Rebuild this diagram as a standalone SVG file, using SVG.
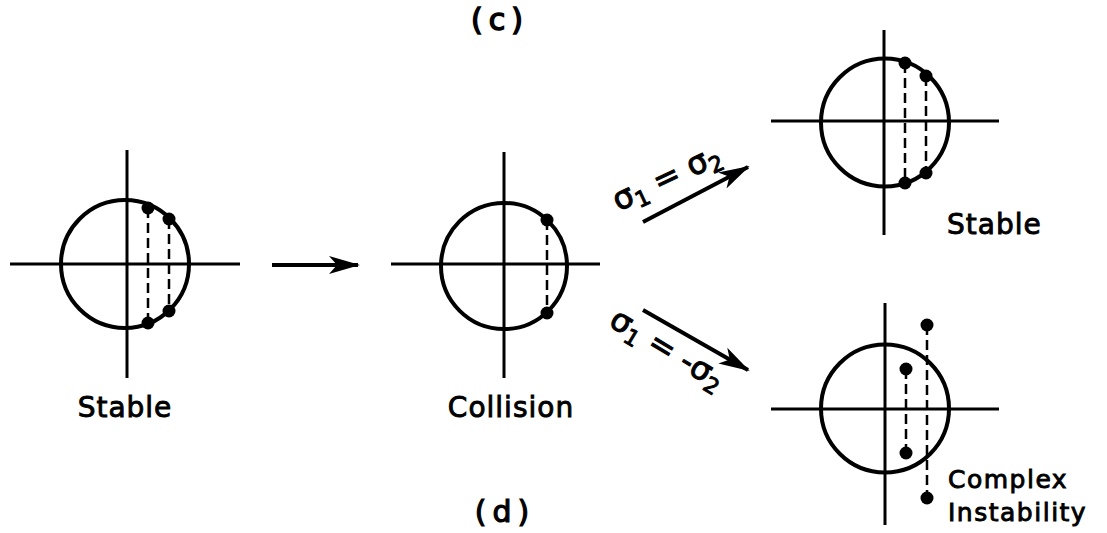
<svg xmlns="http://www.w3.org/2000/svg" width="1107" height="533" viewBox="0 0 1107 533">
<style>
.ax{stroke:#000;stroke-width:3;fill:none}
.cir{stroke:#000;stroke-width:4;fill:none}
.dash{stroke:#000;stroke-width:2.5;stroke-dasharray:10,5;fill:none}
.dot{fill:#000}
.arr{stroke:#000;stroke-width:4;fill:none;marker-end:url(#ah)}
.lbl{font-family:"DejaVu Sans",sans-serif;font-size:28px;fill:#000;stroke:#000;stroke-width:0.9px;letter-spacing:1px}
.sm{font-family:"DejaVu Sans",sans-serif;font-size:25px;fill:#000;stroke:#000;stroke-width:0.9px;letter-spacing:1.5px}
.sig{font-family:"DejaVu Sans",sans-serif;font-size:32px;fill:#000;stroke:#000;stroke-width:1px}
</style>
<defs>
<marker id="ah" markerUnits="userSpaceOnUse" markerWidth="32" markerHeight="20" refX="29" refY="10" orient="auto">
<path d="M0,1 L31,10 L0,19 L8,10 z" fill="#000"/>
</marker>
</defs>
<text x="500" y="30" class="lbl" text-anchor="middle" style="font-size:30px;letter-spacing:6px;stroke-width:1.5px">(c)</text>
<text x="505" y="522" class="lbl" text-anchor="middle" style="font-size:30px;letter-spacing:6px;stroke-width:1.2px">(d)</text>
<g id="stable-left">
<line class="ax" x1="127" y1="150" x2="127" y2="378"/>
<line class="ax" x1="10" y1="264" x2="240" y2="264"/>
<circle class="cir" cx="125" cy="264" r="64"/>
<line class="dash" x1="148" y1="208" x2="148" y2="323"/>
<line class="dash" x1="169" y1="219" x2="169" y2="311"/>
<circle class="dot" cx="148" cy="208" r="6.5"/>
<circle class="dot" cx="169" cy="219" r="6.5"/>
<circle class="dot" cx="169" cy="311" r="6.5"/>
<circle class="dot" cx="148" cy="323" r="6.5"/>
<text x="125" y="417" class="lbl" text-anchor="middle">Stable</text>
</g>
<g id="collision">
<line class="ax" x1="504" y1="152" x2="504" y2="378"/>
<line class="ax" x1="391" y1="264" x2="600" y2="264"/>
<circle class="cir" cx="504" cy="266" r="63"/>
<line class="dash" x1="547" y1="220" x2="547" y2="313"/>
<circle class="dot" cx="547" cy="220" r="6.5"/>
<circle class="dot" cx="547" cy="313" r="6.5"/>
<text x="511" y="417" class="lbl" text-anchor="middle">Collision</text>
</g>
<g id="stable-right">
<line class="ax" x1="884" y1="30" x2="884" y2="235"/>
<line class="ax" x1="771" y1="121" x2="999" y2="121"/>
<circle class="cir" cx="885" cy="122.5" r="64"/>
<line class="dash" x1="905" y1="63" x2="905" y2="183"/>
<line class="dash" x1="926" y1="76" x2="926" y2="173"/>
<circle class="dot" cx="905" cy="63" r="6.5"/>
<circle class="dot" cx="926" cy="76" r="6.5"/>
<circle class="dot" cx="926" cy="173" r="6.5"/>
<circle class="dot" cx="905" cy="183" r="6.5"/>
<text x="947" y="234" class="lbl">Stable</text>
</g>
<g id="complex-instability">
<line class="ax" x1="885" y1="303" x2="885" y2="525"/>
<line class="ax" x1="771" y1="409" x2="999" y2="409"/>
<circle class="cir" cx="885" cy="408.5" r="64"/>
<line class="dash" x1="906" y1="369" x2="906" y2="453"/>
<line class="dash" x1="927" y1="325" x2="927" y2="498"/>
<circle class="dot" cx="906" cy="369" r="6.5"/>
<circle class="dot" cx="906" cy="453" r="6.5"/>
<circle class="dot" cx="927" cy="325" r="6.5"/>
<circle class="dot" cx="927" cy="498" r="6.5"/>
<text x="948" y="488" class="sm">Complex</text>
<text x="948" y="521" class="sm">Instability</text>
</g>
<g id="connectors">
<line class="arr" x1="272" y1="265" x2="358" y2="265"/>
<line class="arr" x1="643" y1="222" x2="748" y2="167"/>
<line class="arr" x1="643" y1="310" x2="748" y2="370"/>
</g>
<g id="labels">
<text class="sig" text-anchor="middle" transform="translate(671,187) rotate(-25)">σ<tspan font-size="22" dy="6">1</tspan><tspan dy="-6"> = σ</tspan><tspan font-size="22" dy="6">2</tspan></text>
<text class="sig" text-anchor="middle" transform="translate(662,358) rotate(31)">σ<tspan font-size="22" dy="6">1</tspan><tspan dy="-6"> = -σ</tspan><tspan font-size="22" dy="6">2</tspan></text>
</g>
</svg>
